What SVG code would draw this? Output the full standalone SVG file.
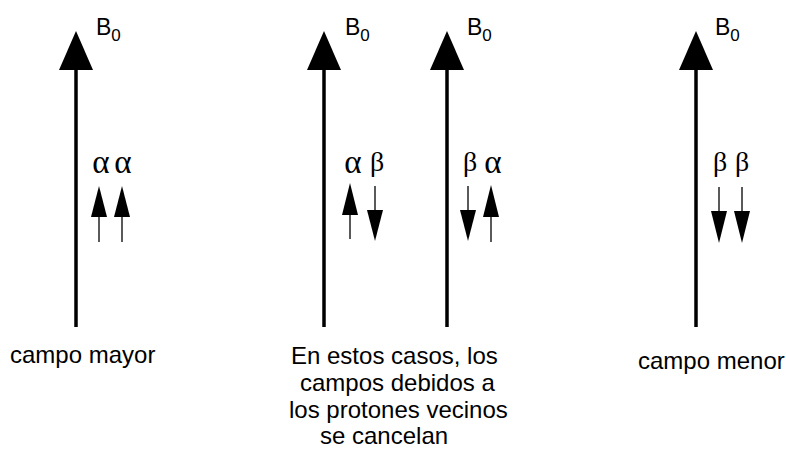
<svg xmlns="http://www.w3.org/2000/svg" width="786" height="450" viewBox="0 0 786 450">
<style>
.main{stroke:#000;stroke-width:3.5;fill:none}
.thin{stroke:#000;stroke-width:1.3;fill:none}
.head{fill:#000}
.b{font-family:"Liberation Sans",Arial,sans-serif;font-size:23px;fill:#000}
.sub{font-size:17px}
.a{font-family:"Liberation Serif","Times New Roman",serif;font-size:33px;fill:#000;text-anchor:middle}
.be{font-family:"Liberation Serif","Times New Roman",serif;font-size:28px;fill:#000;text-anchor:middle}
.lbl{font-family:"Liberation Sans",Arial,sans-serif;font-size:24px;fill:#000}
</style>
<rect width="786" height="450" fill="#fff"/>
<g id="connectors">
  <line class="main" x1="76" y1="327" x2="76" y2="66"/>
  <polygon class="head" points="76,31 59,70 93,70"/>
  <line class="main" x1="324" y1="327" x2="324" y2="66"/>
  <polygon class="head" points="324,31 307,70 341,70"/>
  <line class="main" x1="447" y1="327" x2="447" y2="66"/>
  <polygon class="head" points="447,31 430,70 464,70"/>
  <line class="main" x1="696" y1="327" x2="696" y2="66"/>
  <polygon class="head" points="696,31 679,70 713,70"/>

  <line class="thin" x1="99" y1="242" x2="99" y2="212"/>
  <polygon class="head" points="99,186 91,217 107,217"/>
  <line class="thin" x1="122" y1="242" x2="122" y2="212"/>
  <polygon class="head" points="122,186 114,217 130,217"/>

  <line class="thin" x1="350" y1="239" x2="350" y2="210"/>
  <polygon class="head" points="350,183 342,215 358,215"/>
  <line class="thin" x1="375" y1="186" x2="375" y2="215"/>
  <polygon class="head" points="375,241 367,210 383,210"/>

  <line class="thin" x1="468" y1="186" x2="468" y2="215"/>
  <polygon class="head" points="468,241 460,210 476,210"/>
  <line class="thin" x1="491" y1="242" x2="491" y2="212"/>
  <polygon class="head" points="491,185 483,217 499,217"/>

  <line class="thin" x1="719" y1="187" x2="719" y2="215"/>
  <polygon class="head" points="719,243 711,211 727,211"/>
  <line class="thin" x1="742" y1="187" x2="742" y2="215"/>
  <polygon class="head" points="742,243 734,211 750,211"/>
</g>
<g id="b0-1"><text class="b" x="96" y="35">B<tspan class="sub" dy="6">0</tspan></text></g>
<g id="b0-2"><text class="b" x="345" y="35">B<tspan class="sub" dy="6">0</tspan></text></g>
<g id="b0-3"><text class="b" x="467" y="35">B<tspan class="sub" dy="6">0</tspan></text></g>
<g id="b0-4"><text class="b" x="715" y="35">B<tspan class="sub" dy="6">0</tspan></text></g>
<g id="spins-1"><text class="a" x="101" y="173">α</text><text class="a" x="123" y="173">α</text></g>
<g id="spins-2"><text class="a" x="353" y="173">α</text><text class="be" x="377" y="171">β</text></g>
<g id="spins-3"><text class="be" x="470" y="171">β</text><text class="a" x="493" y="173">α</text></g>
<g id="spins-4"><text class="be" x="720" y="171">β</text><text class="be" x="742" y="171">β</text></g>
<g id="label-1"><text class="lbl" x="10" y="363">campo mayor</text></g>
<g id="label-2">
  <text class="lbl" x="291" y="364">En estos casos, los</text>
  <text class="lbl" x="300" y="391">campos debidos a</text>
  <text class="lbl" x="289" y="418">los protones vecinos</text>
  <text class="lbl" x="320" y="444">se cancelan</text>
</g>
<g id="label-3"><text class="lbl" x="638" y="369">campo menor</text></g>
</svg>
